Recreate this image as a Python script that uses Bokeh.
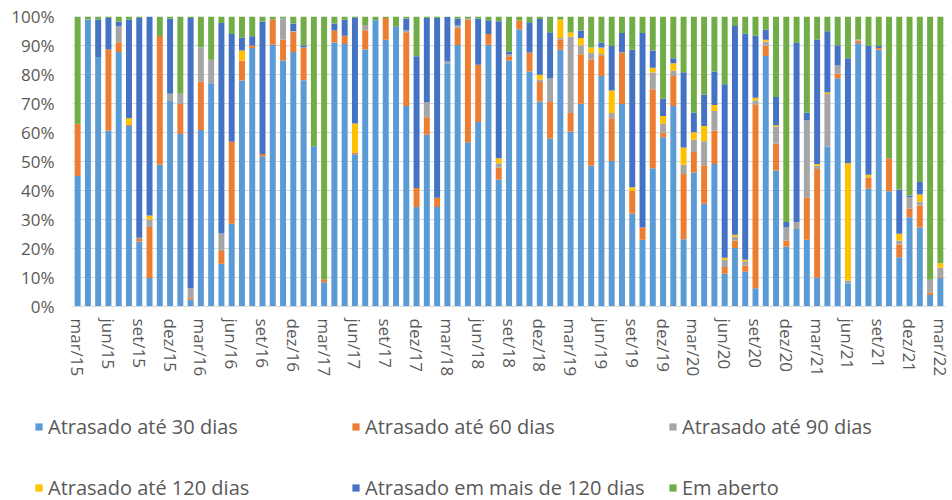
from bokeh.plotting import figure
from bokeh.models import (Range1d, FixedTicker, Legend, LegendItem, PrintfTickFormatter,
                          ColumnDataSource)
from bokeh.embed import file_html
from bokeh.resources import INLINE

# ---------------- data (percent of total) ----------------
month_abbr = ["jan", "fev", "mar", "abr", "mai", "jun", "jul", "ago", "set", "out", "nov", "dez"]
periods = []
for k in range(85):
    mi = (2 + k) % 12
    yr = 15 + (2 + k) // 12
    periods.append(f"{month_abbr[mi]}/{yr}")

tick_labels = ["mar/15", "jun/15", "set/15", "dez/15", "mar/16", "jun/16", "set/16", "dez/16",
               "mar/17", "jun/17", "set/17", "dez/17", "mar/18", "jun/18", "set/18", "dez/18",
               "mar/19", "jun/19", "set/19", "dez/19", "mar/20", "jun/20", "set/20", "dez/20",
               "mar/21", "jun/21", "set/21", "dez/21", "mar/22"]

series_names = ["Atrasado até 30 dias", "Atrasado até 60 dias", "Atrasado até 90 dias",
                "Atrasado até 120 dias", "Atrasado em mais de 120 dias", "Em aberto"]

a30 = [45, 99, 86, 60.7, 87.8, 62.2, 22.4, 9.8, 48.9, 70.9, 59.5, 2.3, 60.9, 77, 14.7, 28.5,
       77.9, 89.1, 51.8, 90.3, 84.8, 87.8, 78, 55.3, 8.4, 91, 90.5, 52.5, 88.6, 98.7, 92, 96.6,
       69.1, 34.3, 59.2, 34.3, 83.9, 90.2, 56.6, 63.6, 90.3, 43.8, 84.8, 95.6, 81, 70.7, 57.9,
       88.5, 60.3, 69.9, 48.5, 79.5, 50.2, 69.8, 32, 23, 47.7, 58.4, 69.1, 23.2, 46.2, 35.4,
       49.1, 11.3, 20.2, 12, 6.3, 86.4, 46.9, 20.6, 26.7, 23, 9.9, 55.2, 78.7, 8, 90.8, 40.6,
       88.5, 39.7, 17, 30.8, 27.2, 4, 9.8]
a60 = [18, 0, 0, 27.9, 3.3, 0.6, 0.9, 17.6, 44.4, 0, 10.3, 0.7, 16.7, 0, 4.4, 28.3,
       6.8, 0.8, 0.8, 8.6, 7.3, 6.9, 11.3, 0, 1, 4.2, 2.9, 0.6, 6.7, 0, 7.5, 0,
       25.5, 6.6, 6.1, 3.2, 0, 5.9, 42.3, 19.8, 3.7, 4.1, 1.5, 3, 6.6, 6.7, 12.6,
       3.6, 6.4, 17.1, 36.6, 7.1, 14.7, 17.6, 7.8, 4.2, 27.2, 1.5, 10.4, 22.5, 7.1, 13.3,
       11.6, 2.3, 2.6, 2.1, 63.4, 3.5, 9.2, 2.2, 0, 14.5, 37.5, 0, 1.6, 0, 0.9, 3.7,
       0.6, 11.4, 4.4, 2.9, 7.6, 0.7, 0.3]
a90 = [0, 0, 0, 0, 5.6, 0, 0.4, 2.6, 0, 2.5, 3.6, 3.4, 11.8, 8.1, 6.1, 0,
       0, 0, 0, 0, 7.2, 0.3, 0, 0, 0, 0, 0, 0, 1.8, 0, 0, 0,
       0.6, 0, 5.2, 0, 0.6, 0.8, 0.3, 0, 0, 1.5, 0.8, 0, 0, 0.8, 8.1,
       0.5, 26.4, 3.1, 2.3, 0.5, 1.8, 0.4, 0, 0, 5.8, 3.1, 1.8, 3.2, 4.2, 8.3,
       6.7, 2.5, 1.3, 1.5, 1.3, 1.5, 6, 4.6, 2.4, 26.6, 1.1, 18.1, 2.8, 1, 0.4, 0.3,
       0, 0, 1.4, 4, 1.4, 4.5, 3.3]
a120 = [0, 0, 0, 0, 0, 2.1, 0, 1.4, 0, 0, 0, 0, 0, 0, 0, 0,
        3.6, 0, 0, 0, 0, 0, 0, 0, 0, 0, 0, 10, 0, 0, 0, 0,
        0, 0, 0, 0, 0, 0, 0, 0, 0, 1.7, 0, 0, 0, 1.7, 0,
        6.4, 1.4, 2.5, 1.9, 2.2, 7.8, 0, 1.3, 0, 1.6, 2.7, 2.6, 5.9, 2.6, 5.2,
        2.1, 0.7, 0.6, 0.5, 1, 0.6, 0.4, 0, 0, 0, 0.6, 0.5, 0, 40.4, 0, 0.8,
        0, 0, 2.3, 0, 2.4, 0, 1.5]
a_mais120 = [0, 0, 13, 10.9, 1.5, 34, 75.8, 68.6, 0, 25.8, 0, 93.1, 0, 0, 72.6, 37.2,
             4.5, 3.3, 45.7, 0, 0, 2.6, 0.8, 0, 0, 2.4, 5.5, 36.4, 0, 0, 0, 0,
             4.1, 45.4, 29, 62, 15.3, 2.3, 0, 15.9, 4.7, 47.3, 0.8, 0, 10.4, 19.2, 16,
             0, 0, 2.6, 0, 1.7, 15.3, 6.5, 47.4, 67.1, 6, 5.9, 1.7, 26, 6.7, 10.8,
             11.5, 59.8, 72, 78, 21.4, 3.4, 9.7, 1.7, 61.8, 2.7, 43, 21.1, 7, 36.2, 0, 44.6,
             0.7, 0, 15.2, 0.6, 4.3, 0, 0]
em_aberto = [37, 1, 1, 0.5, 1.8, 1.1, 0.5, 0, 6.7, 0.8, 26.6, 0.5, 10.6, 14.9, 2.2, 6,
             7.2, 6.8, 1.7, 1.1, 0.7, 2.4, 9.9, 44.7, 90.6, 2.4, 1.1, 0.5, 2.9, 1.3, 0.5, 3.4,
             0.7, 13.7, 0.5, 0.5, 0.2, 0.8, 0.8, 0.7, 1.3, 1.6, 12.1, 1.4, 2, 0.9, 5.4,
             1, 5.5, 4.8, 10.7, 9, 10.2, 5.7, 11.5, 5.7, 11.7, 28.4, 14.4, 19.2, 33.2, 27,
             19, 23.4, 3.3, 5.9, 6.6, 4.6, 27.8, 70.9, 9.1, 33.2, 7.9, 5.1, 9.9, 14.4, 7.9, 10,
             10.2, 48.9, 59.7, 61.7, 57.1, 90.8, 85.1]

colors = ["#5B9BD5", "#ED7D31", "#A5A5A5", "#FFC000", "#4472C4", "#70AD47"]
keys = ["a30", "a60", "a90", "a120", "a_mais120", "em_aberto"]

source = ColumnDataSource(dict(x=list(range(len(periods))), periodo=periods,
                               a30=a30, a60=a60, a90=a90, a120=a120,
                               a_mais120=a_mais120, em_aberto=em_aberto))

FONT = "Open Sans"
TXT = "#595959"

p = figure(width=952, height=400, output_backend="svg", toolbar_location=None,
           x_range=Range1d(-0.5, 84.5), y_range=Range1d(0, 100),
           min_border_left=72, min_border_right=7, min_border_top=16, min_border_bottom=94)
p.outline_line_color = None
p.background_fill_color = "white"
p.border_fill_color = "white"

renderers = p.vbar_stack(keys, x="x", width=0.58, fill_color=colors, line_color=None,
                         source=source)

p.xgrid.visible = False
p.ygrid.grid_line_color = "#D9D9D9"
p.ygrid.grid_line_width = 1

p.yaxis.ticker = FixedTicker(ticks=list(range(0, 101, 10)))
p.yaxis.formatter = PrintfTickFormatter(format="%d%%")
p.yaxis.axis_line_color = None
p.yaxis.major_tick_line_color = None
p.yaxis.minor_tick_line_color = None
p.yaxis.major_tick_out = 0
p.yaxis.major_tick_in = 0
p.yaxis.major_label_standoff = 18
p.yaxis.major_label_text_font = FONT
p.yaxis.major_label_text_font_size = "17px"
p.yaxis.major_label_text_color = TXT

p.xaxis.ticker = FixedTicker(ticks=list(range(0, 85, 3)))
p.xaxis.major_label_overrides = {i * 3: lab for i, lab in enumerate(tick_labels)}
p.xaxis.major_label_orientation = "vertical"
p.xaxis.axis_line_color = "#D9D9D9"
p.xaxis.major_tick_line_color = None
p.xaxis.minor_tick_line_color = None
p.xaxis.major_tick_out = 0
p.xaxis.major_tick_in = 0
p.xaxis.major_label_standoff = 12
p.xaxis.major_label_text_font = FONT
p.xaxis.major_label_text_font_size = "17px"
p.xaxis.major_label_text_color = TXT

# ---------------- legend figure below the chart (separate root, no frame alignment) -------
lg = figure(width=952, height=100, output_backend="svg", toolbar_location=None,
            x_range=Range1d(0, 1), y_range=Range1d(0, 1),
            x_axis_type=None, y_axis_type=None,
            min_border_left=0, min_border_right=0, min_border_top=0, min_border_bottom=0)
lg.grid.visible = False
lg.outline_line_color = None
lg.background_fill_color = "white"
lg.border_fill_color = "white"

# swatch renderers lie outside the visible range; only their legend glyphs are seen
off = ColumnDataSource(dict(x=[5.0], top=[0.0]))
swatches = [lg.vbar(x="x", top="top", width=0.5, fill_color=c, line_color=None, source=off)
            for c in colors]


def make_legend(idx, loc):
    return Legend(items=[LegendItem(label=series_names[i], renderers=[swatches[i]]) for i in idx],
                  orientation="horizontal", location=loc,
                  glyph_width=9, glyph_height=9, label_standoff=5, label_width=303,
                  label_height=26, spacing=0, padding=0, margin=0,
                  border_line_color=None, background_fill_alpha=0,
                  label_text_font=FONT, label_text_font_size="20px", label_text_color=TXT)


lg.add_layout(make_legend([0, 1, 2], (34, 60)), "center")
lg.add_layout(make_legend([3, 4, 5], (34, -1)), "center")

open("out.html", "w").write(file_html([p, lg], INLINE))
